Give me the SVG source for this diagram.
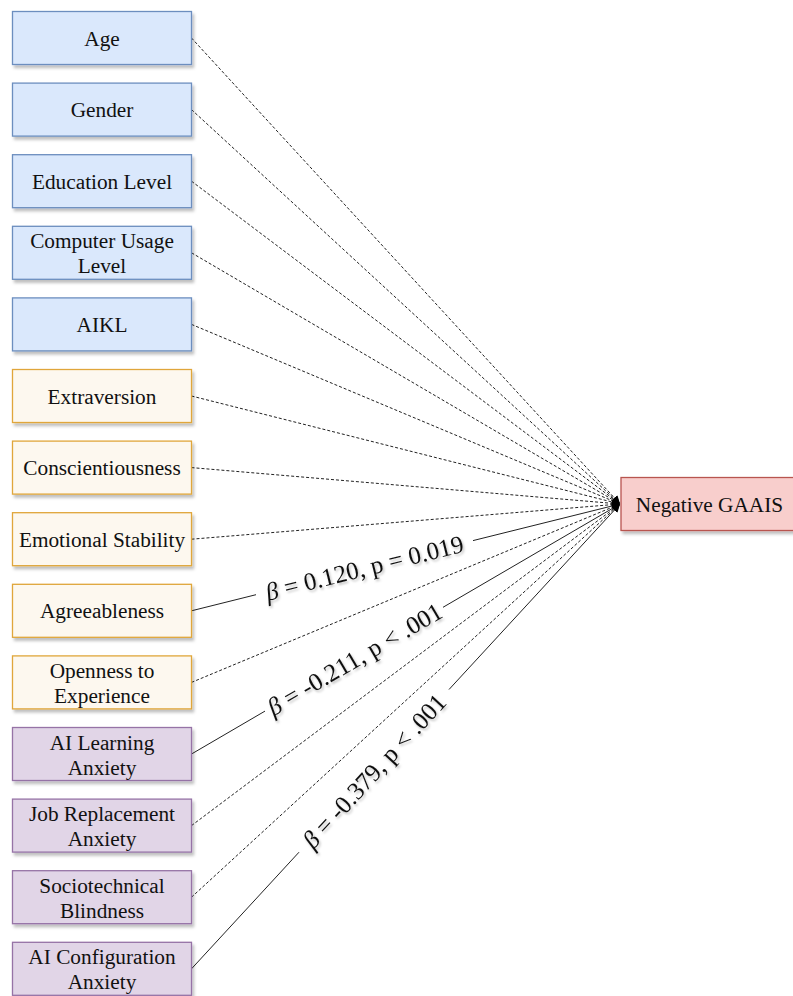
<svg xmlns="http://www.w3.org/2000/svg" width="793" height="996" viewBox="0 0 793 996">
<style>
.box{stroke-width:1.3}
.blue{fill:#dae8fc;stroke:#6c8ebf}
.orange{fill:#fdf8ef;stroke:#e0a63a}
.purple{fill:#e1d5e7;stroke:#9673a6}
.red{fill:#f8cecc;stroke:#b85450}
.t{font-family:"Liberation Serif","Times New Roman",serif;font-size:21.3px;fill:#111;text-anchor:middle}
.lbl{font-family:"Liberation Serif","Times New Roman",serif;font-size:25px;fill:#111;text-anchor:middle;dominant-baseline:central}
.dash{stroke:#222;stroke-width:1;fill:none;stroke-dasharray:3 2;marker-end:url(#ah)}
.solid{stroke:#222;stroke-width:1;fill:none}
.solidA{stroke:#222;stroke-width:1;fill:none;marker-end:url(#ah)}
</style>
<defs>
<filter id="sh" x="-10%" y="-20%" width="130%" height="150%">
<feDropShadow dx="2" dy="3" stdDeviation="1.5" flood-color="#000" flood-opacity="0.25"/>
</filter>
<filter id="tsh" x="-10%" y="-30%" width="120%" height="160%">
<feDropShadow dx="1.5" dy="2" stdDeviation="1.2" flood-color="#000" flood-opacity="0.25"/>
</filter>
<marker id="ah" viewBox="0 0 10 10" refX="10" refY="5" markerWidth="8" markerHeight="8" markerUnits="userSpaceOnUse" orient="auto">
<path d="M0,0 L10,5 L0,10 z" fill="#000"/>
</marker>
</defs>

<g id="connectors">
<path class="dash" d="M191.5,38 L620,504"/>
<path class="dash" d="M191.5,109.6 L620,504"/>
<path class="dash" d="M191.5,181.2 L620,504"/>
<path class="dash" d="M191.5,252.8 L620,504"/>
<path class="dash" d="M191.5,324.4 L620,504"/>
<path class="dash" d="M191.5,396 L620,504"/>
<path class="dash" d="M191.5,467.6 L620,504"/>
<path class="dash" d="M191.5,539.2 L620,504"/>
<path class="solid" d="M191.5,610.8 L256,594.7"/>
<path class="solidA" d="M473,540.6 L620,504"/>
<path class="dash" d="M191.5,682.4 L620,504"/>
<path class="solid" d="M191.5,754 L265,711.1"/>
<path class="solidA" d="M443,607.3 L620,504"/>
<path class="dash" d="M191.5,825.6 L620,504"/>
<path class="dash" d="M191.5,897.2 L620,504"/>
<path class="solid" d="M191.5,968.8 L299,852.2"/>
<path class="solidA" d="M449,689.5 L620,504"/>
<g filter="url(#tsh)">
<text class="lbl" x="364.5" y="567.7" transform="rotate(-13.99 364.5 567.7)"><tspan font-style="italic">β</tspan> = 0.120, p = 0.019</text>
<text class="lbl" x="354.5" y="658.9" transform="rotate(-30.26 354.5 658.9)"><tspan font-style="italic">β</tspan> = -0.211, p &lt; .001</text>
<text class="lbl" x="374" y="770.8" transform="rotate(-47.33 374 770.8)"><tspan font-style="italic">β</tspan> = -0.379, p &lt; .001</text>
</g>
</g>

<g id="age"><rect class="box blue" filter="url(#sh)" x="12.5" y="11.5" width="179" height="53"/><text class="t" x="102" y="45.5">Age</text></g>
<g id="gender"><rect class="box blue" filter="url(#sh)" x="12.5" y="83.1" width="179" height="53"/><text class="t" x="102" y="117.1">Gender</text></g>
<g id="education"><rect class="box blue" filter="url(#sh)" x="12.5" y="154.7" width="179" height="53"/><text class="t" x="102" y="188.7">Education Level</text></g>
<g id="computer"><rect class="box blue" filter="url(#sh)" x="12.5" y="226.3" width="179" height="53"/><text class="t" x="102" y="248.3">Computer Usage</text><text class="t" x="102" y="273.3">Level</text></g>
<g id="aikl"><rect class="box blue" filter="url(#sh)" x="12.5" y="297.9" width="179" height="53"/><text class="t" x="102" y="331.9">AIKL</text></g>
<g id="extraversion"><rect class="box orange" filter="url(#sh)" x="12.5" y="369.5" width="179" height="53"/><text class="t" x="102" y="403.5">Extraversion</text></g>
<g id="conscientiousness"><rect class="box orange" filter="url(#sh)" x="12.5" y="441.1" width="179" height="53"/><text class="t" x="102" y="475.1">Conscientiousness</text></g>
<g id="emotional"><rect class="box orange" filter="url(#sh)" x="12.5" y="512.7" width="179" height="53"/><text class="t" x="102" y="546.7">Emotional Stability</text></g>
<g id="agreeableness"><rect class="box orange" filter="url(#sh)" x="12.5" y="584.3" width="179" height="53"/><text class="t" x="102" y="618.3">Agreeableness</text></g>
<g id="openness"><rect class="box orange" filter="url(#sh)" x="12.5" y="655.9" width="179" height="53"/><text class="t" x="102" y="677.9">Openness to</text><text class="t" x="102" y="702.9">Experience</text></g>
<g id="ai-learning"><rect class="box purple" filter="url(#sh)" x="12.5" y="727.5" width="179" height="53"/><text class="t" x="102" y="749.5">AI Learning</text><text class="t" x="102" y="774.5">Anxiety</text></g>
<g id="job"><rect class="box purple" filter="url(#sh)" x="12.5" y="799.1" width="179" height="53"/><text class="t" x="102" y="821.1">Job Replacement</text><text class="t" x="102" y="846.1">Anxiety</text></g>
<g id="sociotechnical"><rect class="box purple" filter="url(#sh)" x="12.5" y="870.7" width="179" height="53"/><text class="t" x="102" y="892.7">Sociotechnical</text><text class="t" x="102" y="917.7">Blindness</text></g>
<g id="ai-config"><rect class="box purple" filter="url(#sh)" x="12.5" y="942.3" width="179" height="53"/><text class="t" x="102" y="964.3">AI Configuration</text><text class="t" x="102" y="989.3">Anxiety</text></g>
<g id="negative-gaais"><rect class="box red" filter="url(#sh)" x="621" y="477.5" width="180" height="53"/><text class="t" x="709.5" y="511.5">Negative GAAIS</text></g>
</svg>
